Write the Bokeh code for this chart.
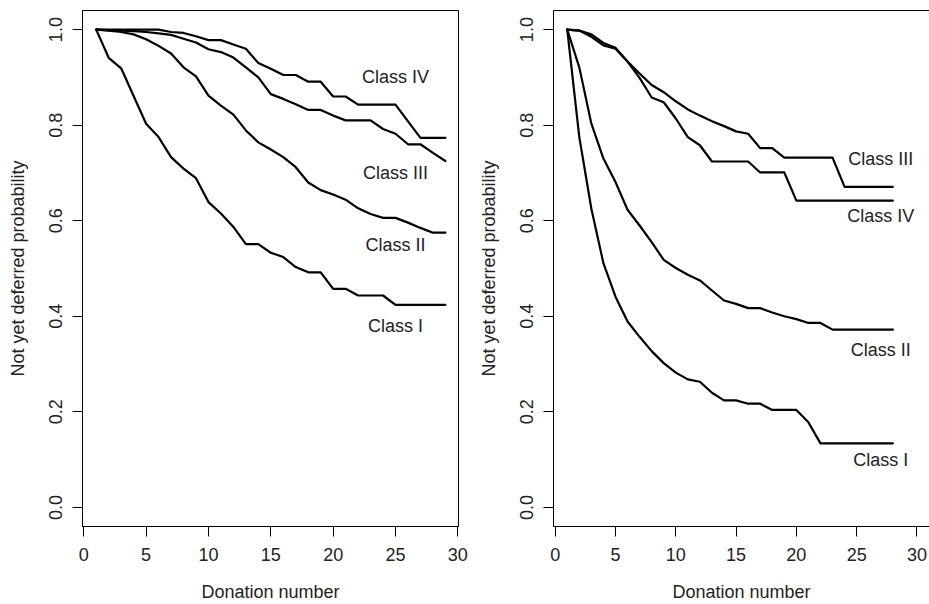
from bokeh.plotting import figure
from bokeh.layouts import row
from bokeh.models import FixedTicker, NumeralTickFormatter, LinearAxis, Range1d
from bokeh.embed import file_html
from bokeh.resources import INLINE
from bokeh.core.properties import value

# ---------------- data ----------------
donation_left = list(range(1, 30))
left_class_I = [1.0, 0.941, 0.919, 0.861, 0.803, 0.775, 0.733, 0.709, 0.689, 0.639,
                0.615, 0.587, 0.551, 0.551, 0.533, 0.524, 0.503, 0.492, 0.492, 0.4575,
                0.4575, 0.4435, 0.4435, 0.4435, 0.424, 0.424, 0.424, 0.424, 0.424]
left_class_II = [1.0, 0.998, 0.995, 0.99, 0.98, 0.966, 0.95, 0.921, 0.902, 0.862,
                 0.841, 0.822, 0.789, 0.764, 0.749, 0.733, 0.712, 0.68, 0.664, 0.655,
                 0.644, 0.626, 0.614, 0.606, 0.606, 0.596, 0.585, 0.575, 0.575]
left_class_III = [1.0, 0.999, 0.998, 0.997, 0.995, 0.992, 0.989, 0.981, 0.973, 0.959,
                  0.953, 0.9415, 0.921, 0.900, 0.865, 0.855, 0.844, 0.832, 0.832, 0.820,
                  0.810, 0.810, 0.810, 0.792, 0.782, 0.760, 0.760, 0.742, 0.725]
left_class_IV = [1.0, 1.0, 1.0, 1.0, 1.0, 1.0, 0.995, 0.993, 0.986, 0.978,
                 0.978, 0.969, 0.960, 0.930, 0.918, 0.905, 0.905, 0.891, 0.891, 0.860,
                 0.860, 0.843, 0.843, 0.843, 0.843, 0.808, 0.7735, 0.7735, 0.7735]

donation_right = list(range(1, 29))
right_class_I = [1.0, 0.775, 0.625, 0.511, 0.441, 0.389, 0.357, 0.327, 0.302, 0.282,
                 0.268, 0.263, 0.240, 0.224, 0.224, 0.217, 0.217, 0.204, 0.204, 0.204,
                 0.178, 0.134, 0.134, 0.134, 0.134, 0.134, 0.134, 0.134]
right_class_II = [1.0, 0.921, 0.803, 0.730, 0.681, 0.623, 0.59, 0.555, 0.518, 0.501,
                  0.487, 0.475, 0.454, 0.433, 0.426, 0.417, 0.417, 0.408, 0.400, 0.394,
                  0.386, 0.386, 0.372, 0.372, 0.372, 0.372, 0.372, 0.372]
right_class_III = [1.0, 0.998, 0.99, 0.972, 0.962, 0.933, 0.908, 0.884, 0.869, 0.850,
                   0.833, 0.820, 0.808, 0.798, 0.787, 0.782, 0.752, 0.752, 0.732, 0.732,
                   0.732, 0.732, 0.732, 0.671, 0.671, 0.671, 0.671, 0.671]
right_class_IV = [1.0, 0.998, 0.985, 0.967, 0.960, 0.933, 0.899, 0.858, 0.848, 0.814,
                  0.775, 0.758, 0.724, 0.724, 0.724, 0.724, 0.701, 0.701, 0.701, 0.642,
                  0.642, 0.642, 0.642, 0.642, 0.642, 0.642, 0.642, 0.642]

left_labels = ["Class IV", "Class III", "Class II", "Class I"]
left_label_x = [25, 25, 25, 25]
left_label_y = [0.90, 0.70, 0.55, 0.38]
right_labels = ["Class III", "Class IV", "Class II", "Class I"]
right_label_x = [27, 27, 27, 27]
right_label_y = [0.73, 0.61, 0.33, 0.10]

x_ticks = [0, 5, 10, 15, 20, 25, 30]
y_ticks = [0.0, 0.2, 0.4, 0.6, 0.8, 1.0]
x_title = "Donation number"
y_title = "Not yet deferred probability"

# ---------------- styling ----------------
FONT = "Liberation Sans"
TXT = "#222222"
FS = "18px"


def make_panel(xs, series, labels, lx, ly, xr, width, border_left, border_right, full_box):
    p = figure(width=width, height=604, x_range=Range1d(*xr), y_range=Range1d(-0.04, 1.04),
               output_backend="svg", toolbar_location=None,
               min_border_left=border_left, min_border_right=border_right,
               min_border_top=10, min_border_bottom=76)
    p.grid.visible = False
    p.background_fill_color = "white"
    p.border_fill_color = "white"

    xa = p.below[0]
    ya = p.left[0]

    if full_box:
        p.outline_line_color = "black"
        p.outline_line_width = 1
        p.outline_line_alpha = 1
    else:
        p.outline_line_color = None
        top = LinearAxis(ticker=FixedTicker(ticks=[]), major_tick_out=0, major_tick_in=0,
                         minor_tick_out=0, minor_tick_in=0, major_label_standoff=0,
                         major_label_text_font_size="0px",
                         axis_line_color="black", axis_line_width=1)
        p.add_layout(top, "above")

    for ys in series:
        p.line(xs, ys, line_color="black", line_width=2.2, line_join="round", line_cap="round")

    p.text(x=lx, y=ly, text=labels, text_font=value(FONT), text_font_size=FS,
           text_align="center", text_baseline="middle", text_color=TXT)

    xa.ticker = FixedTicker(ticks=x_ticks)
    xa.axis_label = x_title
    ya.ticker = FixedTicker(ticks=y_ticks)
    ya.formatter = NumeralTickFormatter(format="0.0")
    ya.axis_label = y_title
    ya.major_label_orientation = "parallel"
    for ax in (xa, ya):
        ax.axis_line_color = "black"
        ax.axis_line_width = 1
        ax.major_tick_line_color = "black"
        ax.major_tick_line_width = 1
        ax.major_tick_out = 10
        ax.major_tick_in = 0
        ax.minor_tick_line_color = None
        ax.major_label_text_font = FONT
        ax.major_label_text_font_size = FS
        ax.major_label_text_color = TXT
        ax.axis_label_text_font = FONT
        ax.axis_label_text_font_size = FS
        ax.axis_label_text_font_style = "normal"
        ax.axis_label_text_color = TXT
    xa.major_label_standoff = 11
    xa.axis_label_standoff = 18
    ya.major_label_standoff = 10
    ya.axis_label_standoff = 19
    return p


p1 = make_panel(donation_left, [left_class_I, left_class_II, left_class_III, left_class_IV],
                left_labels, left_label_x, left_label_y, (-0.1, 30.05), 472, 82, 14, True)
p2 = make_panel(donation_right, [right_class_I, right_class_II, right_class_III, right_class_IV],
                right_labels, right_label_x, right_label_y, (-0.14, 31.04), 457, 81, 0, False)

layout = row(p1, p2)
open("out.html", "w").write(file_html(layout, INLINE))
